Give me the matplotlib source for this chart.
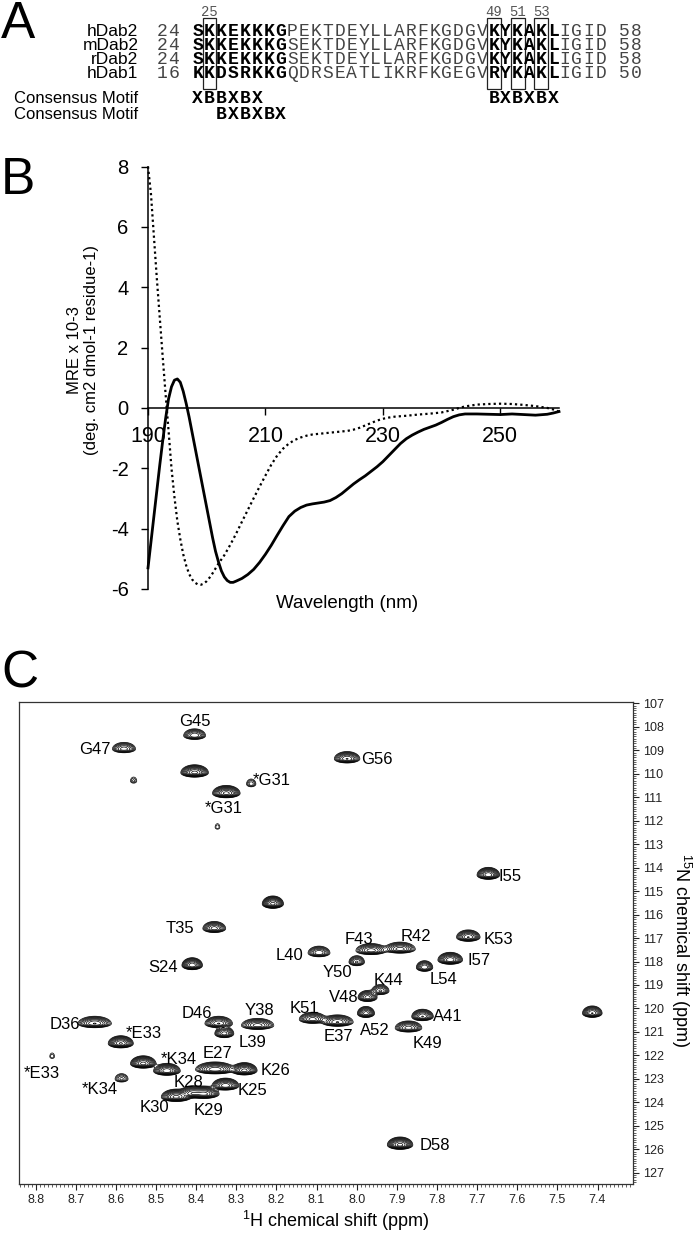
import numpy as np
import matplotlib.pyplot as plt
from matplotlib.patches import Rectangle
from matplotlib.ticker import MultipleLocator

plt.rcParams['font.family'] = 'Liberation Sans'
plt.rcParams['axes.unicode_minus'] = False
plt.rcParams['mathtext.default'] = 'regular'

# ---- A: sequence alignment ----
seq_names = ['hDab2', 'mDab2', 'rDab2', 'hDab1']
seq_first = ['24', '24', '24', '16']
seq_last = ['58', '58', '58', '50']
sequences = ['SKKEKKKGPEKTDEYLLARFKGDGVKYKAKLIGID',
             'SKKEKKKGSEKTDEYLLARFKGDGVKYKAKLIGID',
             'SKKEKKKGSEKTDEYLLARFKGDGVKYKAKLIGID',
             'KKDSRKKGQDRSEATLIKRFKGEGVRYKAKLIGID']
bold_cols = list(range(0, 8)) + list(range(25, 31))
boxed_cols = [1, 25, 27, 29]
boxed_nums = ['25', '49', '51', '53']
motif_1 = [('XBBXBX', 0), ('BXBXBX', 25)]
motif_2 = [('BXBXBX', 2)]

# ---- B: CD spectra ----
wl_solid = [190, 190.5, 191, 191.5, 192, 192.5, 193, 193.5, 194, 194.5, 195, 195.5, 196, 196.5,
            197, 197.5, 198, 198.5, 199, 199.5, 200, 200.5, 201, 201.5, 202, 202.5, 203, 203.5,
            204, 204.5, 205, 206, 207, 208, 209, 210, 211, 212, 213, 214, 215, 216, 217, 218,
            219, 220, 221, 222, 223, 224, 225, 226, 227, 228, 229, 230, 231, 232, 233, 234, 235,
            236, 237, 238, 239, 240, 241, 242, 243, 244, 246, 248, 250, 252, 254, 256, 258, 259, 260]
mre_solid = [-5.3, -4.45, -3.6, -2.75, -1.9, -1.1, -0.35, 0.3, 0.7, 0.92, 0.96, 0.85, 0.55, 0.15,
             -0.3, -0.8, -1.3, -1.8, -2.3, -2.8, -3.3, -3.8, -4.3, -4.75, -5.1, -5.4, -5.6, -5.72,
             -5.78, -5.78, -5.74, -5.65, -5.52, -5.35, -5.12, -4.85, -4.55, -4.22, -3.9, -3.6, -3.42,
             -3.3, -3.22, -3.18, -3.15, -3.12, -3.07, -2.97, -2.84, -2.68, -2.52, -2.38, -2.25, -2.1,
             -1.95, -1.78, -1.58, -1.38, -1.18, -1.02, -0.9, -0.8, -0.71, -0.64, -0.57, -0.48, -0.38,
             -0.29, -0.23, -0.2, -0.2, -0.21, -0.22, -0.2, -0.22, -0.24, -0.21, -0.17, -0.12]
wl_dotted = [190, 190.5, 191, 191.5, 192, 192.5, 193, 193.5, 194, 194.5, 195, 195.5, 196, 196.5,
             197, 197.5, 198, 198.5, 199, 199.5, 200, 200.5, 201, 201.5, 202, 203, 204, 205, 206,
             207, 208, 209, 210, 211, 212, 213, 214, 215, 216, 217, 218, 220, 222, 224, 225, 226,
             227, 228, 229, 230, 231, 232, 234, 236, 238, 240, 242, 243, 244, 246, 248, 250, 252,
             254, 256, 258, 259, 260]
mre_dotted = [8.0, 7.1, 5.7, 4.3, 3.0, 1.7, 0.45, -0.75, -2.0, -2.95, -3.75, -4.35, -4.85, -5.22,
              -5.5, -5.68, -5.79, -5.85, -5.86, -5.82, -5.74, -5.62, -5.48, -5.32, -5.16, -4.88,
              -4.54, -4.17, -3.77, -3.38, -2.99, -2.61, -2.24, -1.88, -1.58, -1.35, -1.18, -1.06,
              -0.98, -0.92, -0.88, -0.84, -0.8, -0.76, -0.72, -0.66, -0.58, -0.5, -0.42, -0.36,
              -0.32, -0.29, -0.26, -0.22, -0.19, -0.15, -0.06, 0.0, 0.05, 0.11, 0.13, 0.14, 0.13,
              0.1, 0.06, 0.0, -0.05, -0.12]

# ---- C: 1H-15N HSQC peak list ----
peak_labels = ['G45', 'G47', '', '', '*G31', '*G31', '', 'G56', 'I55', '', 'T35', 'F43', 'R42',
               'K53', 'L40', 'Y50', 'I57', 'S24', 'L54', 'K44', 'V48', 'A52', 'A41', 'K49', 'K51',
               'E37', 'D36', 'D46', 'L39', 'Y38', '', '*E33', '*E33', '', '*K34', '*K34', 'E27',
               'K26', 'K25', 'K30', 'K28', 'K29', 'D58']
peak_h = [8.404, 8.580, 8.404, 8.556, 8.263, 8.325, 8.347, 8.024, 7.672, 8.209, 8.355, 7.964, 7.892,
          7.722, 8.094, 8.000, 7.767, 8.410, 7.831, 7.941, 7.973, 7.977, 7.836, 7.871, 8.110,
          8.048, 8.653, 8.344, 8.330, 8.247, 7.413, 8.588, 8.759, 8.532, 8.473, 8.586, 8.353,
          8.280, 8.327, 8.450, 8.410, 8.380, 7.892]
peak_n = [108.38, 108.95, 109.96, 110.31, 110.44, 110.84, 112.28, 109.37, 114.32, 115.55, 116.60,
          117.54, 117.48, 116.97, 117.64, 118.03, 117.94, 118.17, 118.26, 119.26, 119.54, 120.22,
          120.35, 120.84, 120.47, 120.59, 120.65, 120.65, 121.08, 120.73, 120.21, 121.50, 122.05,
          122.36, 122.67, 123.01, 122.61, 122.65, 123.30, 123.78, 123.63, 123.65, 125.82]
peak_amp = [0.4, 0.35, 1.0, 0.07, 0.12, 1.0, 0.06, 0.6, 0.8, 1.0, 0.5, 0.5, 0.5, 0.6, 0.4, 0.3,
            0.8, 0.8, 0.4, 0.3, 0.5, 0.5, 0.6, 0.5, 0.5, 0.6, 0.6, 0.6, 0.5, 0.5, 0.6, 0.9, 0.06,
            1.0, 0.8, 0.15, 0.8, 1.0, 0.8, 1.0, 0.8, 1.0, 1.0]

# peak widths (ppm, 1H) and label offsets (pixels) - styling only
peak_w = [0.012, 0.013, 0.013, 0.006, 0.007, 0.013, 0.005, 0.013, 0.011, 0.010, 0.012, 0.016,
          0.016, 0.012, 0.012, 0.009, 0.012, 0.010, 0.009, 0.010, 0.010, 0.009, 0.011, 0.014,
          0.014, 0.016, 0.017, 0.014, 0.010, 0.017, 0.010, 0.012, 0.005, 0.012, 0.013, 0.009,
          0.019, 0.012, 0.013, 0.014, 0.012, 0.014, 0.012]
label_dx = [0, -28.7, 0, 0, 20.8, -3, 0, 30, 22, 0, -34, -12.4, 15.5, 30, -30, -19, 28.7, -29.6,
            19, 8, -24.3, 8.8, 25, 18.6, -8, 1, -29.6, -22, 28.7, 2.2, 0, 23, -10, 0, 12, -22,
            2.2, 31, 26.5, -22, -4, 4.4, 35]
label_dy = [14, 0, 0, 0, 4, -15, 0, -1, -1, 0, 0, 11.3, 13.3, -1.7, -2, -10.7, -0.7, -2.3, -11.7,
            11, 0, -17, 0, -15.7, 10.7, -14, -0.7, 10, -9, 15, 0, 10, -17.3, 0, 11.7, -10.3, 16,
            0, -4.3, -10.6, 11.6, -16, 0]

W, H = 693, 1233
fig = plt.figure(figsize=(W / 100, H / 100), dpi=100)

# pixel-coordinate overlay for panel A and free labels
pa = fig.add_axes([0, 0, 1, 1])
pa.set_xlim(0, W)
pa.set_ylim(H, 0)
pa.axis('off')

mono = 'Liberation Mono'
x0, pitch = 191.7, 11.85
row_base = [36, 50, 64, 78]


def put(col, y, s, bold=False, color='#444', size=13):
    for k, ch in enumerate(s):
        pa.text(x0 + (col + k + 0.5) * pitch, y, ch, ha='center', va='baseline',
                family=mono, fontsize=size, color='black' if bold else color,
                fontweight='bold' if bold else 'normal')


for r, seq in enumerate(sequences):
    y = row_base[r]
    pa.text(138.5, y, seq_names[r], ha='right', va='baseline', fontsize=12.5)
    put(-3, y, seq_first[r])
    for i, ch in enumerate(seq):
        put(i, y, ch, bold=i in bold_cols)
    put(len(seq) + 1, y, seq_last[r])

pa.text(138.5, 103, 'Consensus Motif', ha='right', va='baseline', fontsize=12)
pa.text(138.5, 119, 'Consensus Motif', ha='right', va='baseline', fontsize=12)
for s, c in motif_1:
    put(c, 103, s, bold=True)
for s, c in motif_2:
    put(c, 119, s, bold=True)

for c, num in zip(boxed_cols, boxed_nums):
    pa.add_patch(Rectangle((x0 + c * pitch - 1, 18), pitch + 2, 71, fill=False,
                           lw=0.9, ec='#222'))
    pa.text(x0 + (c + 0.5) * pitch, 16, num, ha='center', va='baseline', family=mono,
            fontsize=10, color='#555')

for letter, yb in [('A', 38), ('B', 194), ('C', 687)]:
    pa.text(1, yb, letter, ha='left', va='baseline', fontsize=37)

# ---- panel B ----
axb = fig.add_axes([148 / W, 1 - 589 / H, (559 - 148) / W, 422.5 / H])
axb.plot(wl_solid, mre_solid, color='black', lw=2.0, clip_on=False)
axb.plot(wl_dotted, mre_dotted, color='black', lw=1.6, ls=(0, (1, 1.4)), clip_on=False)
axb.set_xlim(190, 260)
axb.set_ylim(-6, 8)
axb.spines[['top', 'right']].set_visible(False)
axb.spines['bottom'].set_position(('data', 0))
axb.spines['left'].set_linewidth(1.1)
axb.spines['bottom'].set_linewidth(1.1)
axb.set_xticks([190, 210, 230, 250])
axb.set_yticks(range(-6, 9, 2))
axb.tick_params(axis='x', direction='out', length=5, width=1, labelsize=15.5, pad=8)
axb.tick_params(axis='y', direction='out', length=5, width=1, labelsize=14.5, pad=9)
axb.patch.set_alpha(0)
pa.text(83, 350, 'MRE x 10-3\n(deg. cm2 dmol-1 residue-1)', rotation=90, ha='center',
        va='center', fontsize=12, multialignment='center')
pa.text(347, 603, 'Wavelength (nm)', ha='center', va='center', fontsize=13.5)

# ---- panel C ----
axc = fig.add_axes([18.6 / W, 1 - 1184 / H, 614.3 / W, 482.3 / H])
gx = np.linspace(7.28, 8.87, 1400)
gy = np.linspace(106.7, 127.7, 1550)
Z = np.zeros((gy.size, gx.size))
for h, n, a, w in zip(peak_h, peak_n, peak_amp, peak_w):
    ix = np.abs(gx - h) < 8 * w
    iy = np.abs(gy - n) < 1.0
    u = (gx[ix] - h) / w
    d = gy[iy] - n
    sy = np.where(d < 0, 0.13, 0.07)
    Z[np.ix_(iy, ix)] += a * np.exp(-0.5 * (d / sy)[:, None] ** 2 - 0.5 * u[None, :] ** 2)

levels = 0.03 * 1.45 ** np.arange(10)
axc.contour(gx, gy, Z, levels=levels, colors='black', linewidths=0.5)

for lab, h, n, dx, dy in zip(peak_labels, peak_h, peak_n, label_dx, label_dy):
    if lab:
        axc.annotate(lab, (h, n), xytext=(dx * 0.72, dy * 0.72), textcoords='offset points',
                     ha='center', va='center', fontsize=12)

axc.set_xlim(8.8426, 7.3118)
axc.set_ylim(127.48, 106.93)
xt = np.round(np.arange(7.4, 8.81, 0.1), 1)
axc.set_xticks(xt)
axc.set_xticklabels([f'{v:.1f}' for v in xt])
axc.xaxis.set_minor_locator(MultipleLocator(0.01))
axc.yaxis.tick_right()
axc.set_yticks(range(107, 128))
axc.yaxis.set_minor_locator(MultipleLocator(0.1))
axc.tick_params(which='both', direction='out', top=False, left=False, colors='#222')
axc.tick_params(which='major', length=4, width=0.8, labelsize=9, pad=3)
axc.tick_params(which='minor', length=2, width=0.5)
for sp in axc.spines.values():
    sp.set_color('#333')
    sp.set_linewidth(0.9)
pa.text(336, 1221, '$^{1}$H chemical shift (ppm)', ha='center', va='center', fontsize=13)
pa.text(681, 950, '$^{15}$N chemical shift (ppm)', rotation=270, ha='center', va='center',
        fontsize=13)

fig.savefig('out.png', dpi=100)
